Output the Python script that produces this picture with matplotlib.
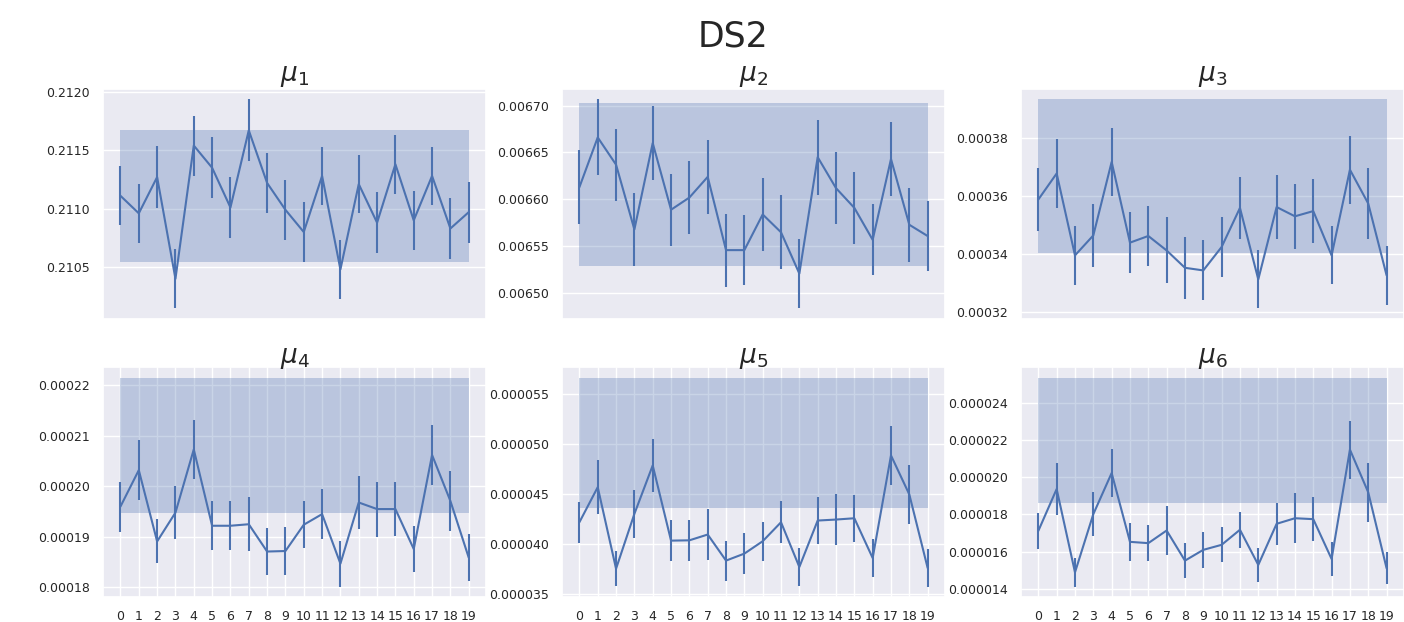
import numpy as np
import matplotlib
matplotlib.use('Agg')
import matplotlib.pyplot as plt
import matplotlib.ticker as mticker
import seaborn as sns

sns.set_theme(style='darkgrid')

steps = list(range(20))

mu1 = [0.21111, 0.21096, 0.21127, 0.21040, 0.21154, 0.21135, 0.21101, 0.21167, 0.21122, 0.21099,
       0.21080, 0.21128, 0.21048, 0.21121, 0.21088, 0.21138, 0.21090, 0.21128, 0.21083, 0.21097]
err1 = [0.000254, 0.000251, 0.000265, 0.000254, 0.000257, 0.000262, 0.000262, 0.000265, 0.000257, 0.000256,
        0.000260, 0.000247, 0.000251, 0.000251, 0.000259, 0.000253, 0.000253, 0.000249, 0.000265, 0.000260]
band1 = (0.21054, 0.21167)

mu2 = [0.006613, 0.006666, 0.006637, 0.006568, 0.006660, 0.006589, 0.006602, 0.006624, 0.006546, 0.006546,
       0.006584, 0.006565, 0.006521, 0.006645, 0.006612, 0.006591, 0.006557, 0.006643, 0.006573, 0.006561]
err2 = [3.93e-5, 4.05e-5, 3.84e-5, 3.91e-5, 3.93e-5, 3.84e-5, 3.87e-5, 3.91e-5, 3.89e-5, 3.71e-5,
        3.89e-5, 3.93e-5, 3.71e-5, 4.00e-5, 3.84e-5, 3.87e-5, 3.77e-5, 3.96e-5, 3.93e-5, 3.68e-5]
band2 = (0.006529, 0.006703)

mu3 = [0.0003587, 0.0003677, 0.0003394, 0.0003463, 0.0003717, 0.0003438, 0.0003461, 0.0003411, 0.0003351, 0.0003342,
       0.0003423, 0.0003558, 0.0003311, 0.0003561, 0.0003529, 0.0003547, 0.0003394, 0.0003690, 0.0003573, 0.0003325]
err3 = [1.085e-5, 1.20e-5, 1.015e-5, 1.096e-5, 1.177e-5, 1.05e-5, 1.05e-5, 1.142e-5, 1.062e-5, 1.039e-5,
        1.027e-5, 1.085e-5, 1.004e-5, 1.096e-5, 1.131e-5, 1.119e-5, 1.004e-5, 1.177e-5, 1.212e-5, 1.027e-5]
band3 = (0.0003402, 0.0003933)

mu4 = [0.0001960, 0.0002032, 0.0001891, 0.0001948, 0.0002073, 0.0001922, 0.0001922, 0.0001925, 0.0001871, 0.0001872,
       0.0001924, 0.0001945, 0.0001847, 0.0001968, 0.0001955, 0.0001955, 0.0001876, 0.0002062, 0.0001971, 0.0001859]
err4 = [4.94e-6, 5.87e-6, 4.35e-6, 5.21e-6, 5.77e-6, 4.81e-6, 4.81e-6, 5.37e-6, 4.74e-6, 4.74e-6,
        4.65e-6, 4.94e-6, 4.55e-6, 5.17e-6, 5.44e-6, 5.30e-6, 4.48e-6, 5.96e-6, 5.93e-6, 4.61e-6]
band4 = (0.0001948, 0.0002215)

mu5 = [4.219e-5, 4.570e-5, 3.754e-5, 4.303e-5, 4.788e-5, 4.035e-5, 4.038e-5, 4.096e-5, 3.835e-5, 3.905e-5,
       4.029e-5, 4.219e-5, 3.771e-5, 4.236e-5, 4.246e-5, 4.259e-5, 3.861e-5, 4.888e-5, 4.497e-5, 3.761e-5]
err5 = [2.07e-6, 2.73e-6, 1.76e-6, 2.37e-6, 2.63e-6, 2.09e-6, 2.04e-6, 2.52e-6, 2.01e-6, 2.07e-6,
        1.97e-6, 2.12e-6, 1.94e-6, 2.31e-6, 2.54e-6, 2.36e-6, 1.92e-6, 2.94e-6, 2.91e-6, 1.87e-6]
band5 = (4.363e-5, 5.667e-5)

mu6 = [1.711e-5, 1.936e-5, 1.488e-5, 1.801e-5, 2.022e-5, 1.652e-5, 1.645e-5, 1.713e-5, 1.551e-5, 1.609e-5,
       1.636e-5, 1.717e-5, 1.528e-5, 1.749e-5, 1.779e-5, 1.774e-5, 1.560e-5, 2.148e-5, 1.918e-5, 1.510e-5]
err6 = [9.6e-7, 1.38e-6, 7.7e-7, 1.20e-6, 1.29e-6, 1.03e-6, 9.6e-7, 1.30e-6, 9.3e-7, 9.8e-7,
        9.4e-7, 9.6e-7, 9.0e-7, 1.12e-6, 1.33e-6, 1.18e-6, 9.0e-7, 1.56e-6, 1.57e-6, 8.7e-7]
band6 = (1.860e-5, 2.535e-5)

means = [mu1, mu2, mu3, mu4, mu5, mu6]
errs = [err1, err2, err3, err4, err5, err6]
bands = [band1, band2, band3, band4, band5, band6]
# y tick spacing per panel
ytick_step = [0.0005, 0.00005, 0.00002, 0.00001, 0.000005, 0.000002]

fig, axes = plt.subplots(2, 3, figsize=(14.04, 6.22), dpi=100)
fig.subplots_adjust(left=0.0734, right=1.0, top=0.857, bottom=0.04, wspace=0.198, hspace=0.21)

for i, ax in enumerate(axes.flat):
    lo, hi = bands[i]
    ax.fill_between([steps[0], steps[-1]], lo, hi, color='C0', alpha=0.3, linewidth=0)
    ax.errorbar(steps, means[i], yerr=errs[i], color='C0', linewidth=1.5, elinewidth=1.5)
    ax.set_title(r'$\mu_%d$' % (i + 1), fontsize=19, pad=3)
    ax.yaxis.set_major_locator(mticker.MultipleLocator(ytick_step[i]))
    ax.ticklabel_format(axis='y', style='plain', useOffset=False)
    ax.tick_params(axis='y', labelsize=9)
    if i < 3:
        ax.set_xticks([])
    else:
        ax.set_xticks(steps)
        ax.tick_params(axis='x', labelsize=9)

fig.suptitle('DS2', fontsize=25, x=0.522, y=0.968)

plt.savefig('out.png', dpi=100)
